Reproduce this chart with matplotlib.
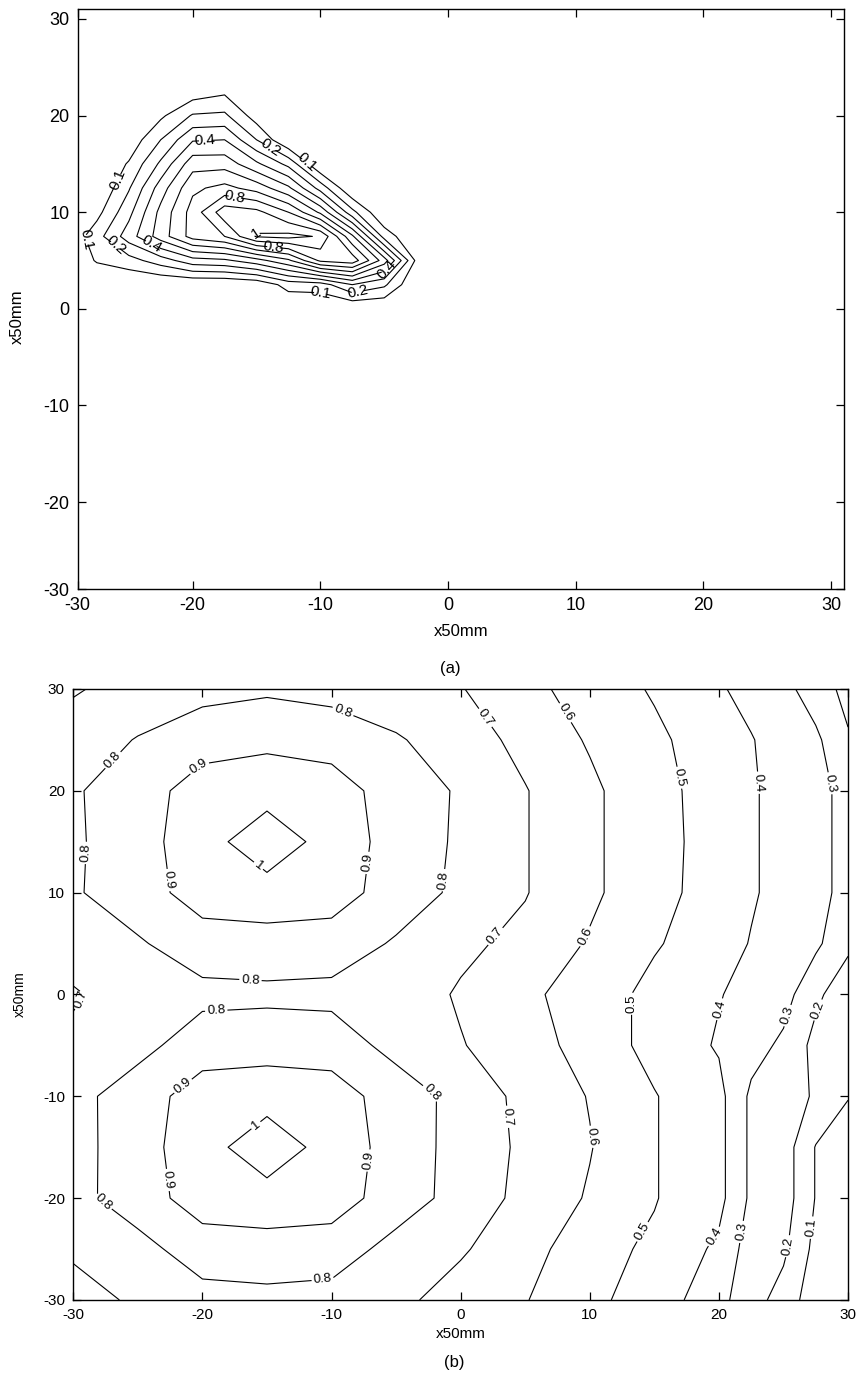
import numpy as np
import matplotlib
matplotlib.use("Agg")
import matplotlib.pyplot as plt

plt.rcParams["font.family"] = ["Liberation Sans Narrow", "Liberation Sans", "DejaVu Sans"]

LEVELS = [0.1, 0.2, 0.3, 0.4, 0.5, 0.6, 0.7, 0.8, 0.9, 1.0]

# ---- panel (a): fan shaped field, zero outside the window below
XA = [-30, -27.5, -25, -22.5, -20, -17.5, -15, -12.5, -10, -7.5, -5, -2.5, 0]
YA = [25, 22.5, 20, 17.5, 15, 12.5, 10, 7.5, 5, 2.5, 0]
ZA = [
    [0, 0, 0, 0, 0, 0, 0, 0, 0, 0, 0, 0, 0],
    [0, 0, 0, 0, 0.04, 0.08, 0, 0, 0, 0, 0, 0, 0],
    [0, 0, 0, 0.08, 0.21, 0.22, 0.05, 0, 0, 0, 0, 0, 0],
    [0, 0, 0.03, 0.20, 0.39, 0.40, 0.20, 0, 0, 0, 0, 0, 0],
    [0, 0, 0.11, 0.32, 0.56, 0.56, 0.42, 0.27, 0, 0, 0, 0, 0],
    [0, 0, 0.19, 0.45, 0.68, 0.73, 0.66, 0.52, 0.26, 0, 0, 0, 0],
    [0, 0.066, 0.27, 0.53, 0.74, 0.96, 0.93, 0.80, 0.58, 0.23, 0, 0, 0],
    [0, 0.16, 0.35, 0.55, 0.74, 0.80, 1.01, 1.03, 0.99, 0.62, 0.16, 0, 0],
    [0, 0.11, 0.16, 0.25, 0.36, 0.38, 0.46, 0.58, 0.82, 0.86, 0.55, 0.08, 0],
    [0, 0, 0, 0, 0, 0, 0.02, 0.14, 0.15, 0.30, 0.22, 0, 0],
    [0, 0, 0, 0, 0, 0, 0, 0, 0, 0, 0, 0, 0],
]

# ---- panel (b): two peaks on the left, falling off to the right
XB = [-30, -25, -20, -15, -10, -5, 0, 5, 10, 15, 20, 22.5, 25, 27.5, 30]
YB = [30, 25, 20, 15, 10, 5, 0, -5, -10, -15, -20, -25, -30]
ZB = [
    [0.69, 0.74, 0.77, 0.785, 0.77, 0.74, 0.705, 0.63, 0.555, 0.49, 0.41, 0.37, 0.33, 0.25, 0.17],
    [0.75, 0.805, 0.855, 0.875, 0.855, 0.81, 0.75, 0.67, 0.59, 0.52, 0.445, 0.405, 0.36, 0.32, 0.21],
    [0.79, 0.85, 0.95, 0.967, 0.95, 0.85, 0.79, 0.705, 0.62, 0.53, 0.46, 0.41, 0.37, 0.33, 0.27],
    [0.786, 0.855, 0.967, 1.05, 0.967, 0.855, 0.786, 0.705, 0.62, 0.53, 0.465, 0.41, 0.37, 0.33, 0.27],
    [0.79, 0.85, 0.95, 0.967, 0.95, 0.85, 0.78, 0.705, 0.62, 0.53, 0.46, 0.41, 0.37, 0.33, 0.27],
    [0.75, 0.79, 0.85, 0.855, 0.85, 0.79, 0.72, 0.675, 0.59, 0.51, 0.44, 0.395, 0.36, 0.32, 0.22],
    [0.69, 0.75, 0.775, 0.78, 0.775, 0.75, 0.69, 0.62, 0.555, 0.47, 0.405, 0.37, 0.34, 0.22, 0.14],
    [0.72, 0.77, 0.85, 0.855, 0.85, 0.77, 0.705, 0.65, 0.555, 0.47, 0.39, 0.34, 0.28, 0.17, 0.13],
    [0.77, 0.85, 0.95, 0.967, 0.95, 0.85, 0.77, 0.67, 0.595, 0.505, 0.43, 0.28, 0.24, 0.19, 0.105],
    [0.766, 0.855, 0.967, 1.05, 0.967, 0.855, 0.766, 0.68, 0.605, 0.505, 0.43, 0.28, 0.25, 0.095, 0.04],
    [0.77, 0.85, 0.95, 0.967, 0.95, 0.85, 0.765, 0.67, 0.59, 0.505, 0.43, 0.28, 0.25, 0.095, 0.04],
    [0.72, 0.767, 0.85, 0.855, 0.85, 0.767, 0.71, 0.645, 0.53, 0.485, 0.38, 0.25, 0.22, 0.07, 0.03],
    [0.65, 0.72, 0.765, 0.775, 0.765, 0.72, 0.665, 0.605, 0.52, 0.46, 0.33, 0.24, 0.16, 0.04, 0.03],
]

TICKS = [-30, -20, -10, 0, 10, 20, 30]
TICK_LABELS = ["-30", "-20", "-10", "0", "10", "20", "30"]

# inline labels: (level, rough x, rough y)
LABELS_A = [(0.1, -25.3, 13.2), (0.4, -19, 17.1), (0.2, -14.3, 16.2), (0.1, -11.5, 14.7),
            (0.8, -16.5, 12.5), (1.0, -15, 8.0), (0.8, -13.8, 5.4), (0.1, -27.9, 7.3),
            (0.2, -27.2, 5.4), (0.4, -24, 5.6), (0.1, -9.8, 2.3), (0.2, -7.2, 2.3),
            (0.4, -5.1, 4.3)]
LABELS_B = [(0.8, -8.5, 29), (0.8, -26.9, 23), (0.9, -19.9, 22), (0.8, -29, 13.9),
            (1.0, -16.4, 11.9), (0.9, -23, 11.2), (0.9, -7, 12.9), (0.8, -16.3, 1.1),
            (0.7, -29, -0.7), (0.8, -18.9, -2), (0.9, -20.8, -9.7), (1.0, -16.7, -12),
            (0.9, -7.2, -16.3), (0.9, -22.5, -18.2), (0.8, -27.8, -20.5), (0.8, -10.7, -27.8),
            (0.8, -2.7, -10.1), (0.7, 1.6, 27), (0.6, 8.4, 27.8), (0.5, 17, 21.3),
            (0.4, 23.1, 20.8), (0.3, 29, 20.8), (0.8, -1, 11.2), (0.7, 3, 5.5),
            (0.6, 10.2, 5.5), (0.5, 13.5, -0.9), (0.4, 20.3, -1.5), (0.3, 26.2, -2.3),
            (0.2, 27.6, -1.5), (0.7, 3.8, -12), (0.6, 9.9, -14), (0.5, 14.3, -23.4),
            (0.4, 19.7, -23.8), (0.3, 20.8, -23.2), (0.2, 26.1, -24.8), (0.1, 27.2, -22.9)]


def snap_labels(cs, wanted):
    # move each wanted spot onto the nearest point of its own level's line
    pts = []
    paths = cs.get_paths()
    for lev, x, y in wanted:
        path = paths[LEVELS.index(lev)]
        best, best_d = None, np.inf
        for poly in path.to_polygons(closed_only=False):
            if len(poly) < 2:
                continue
            a, b = poly[:-1], poly[1:]
            ab = b - a
            den = np.maximum((ab ** 2).sum(1), 1e-12)
            t = np.clip(((x - a[:, 0]) * ab[:, 0] + (y - a[:, 1]) * ab[:, 1]) / den, 0, 1)
            proj = a + ab * t[:, None]
            d = np.hypot(proj[:, 0] - x, proj[:, 1] - y)
            i = d.argmin()
            if d[i] < best_d:
                best_d, best = d[i], proj[i]
        if best is not None:
            pts.append((float(best[0]), float(best[1])))
    return pts


def style_axes(ax, lim, tick_pos, tick_fs):
    ax.set_xlim(*lim)
    ax.set_ylim(*lim)
    ax.set_xticks(tick_pos)
    ax.set_xticklabels(TICK_LABELS)
    ax.set_yticks(tick_pos)
    ax.set_yticklabels(TICK_LABELS)
    ax.tick_params(direction="in", top=True, right=True, length=6, width=0.9,
                   labelsize=tick_fs, pad=6)
    for sp in ax.spines.values():
        sp.set_linewidth(1.0)


def draw_contours(ax, x, y, z, wanted, fs):
    cs = ax.contour(x, y, np.array(z), levels=LEVELS, colors="k", linewidths=0.8)
    ax.clabel(cs, fmt="%g", fontsize=fs, inline=True, inline_spacing=2,
              manual=snap_labels(cs, wanted))


fig = plt.figure(figsize=(8.58, 13.73), dpi=100)

# (a)
ax1 = fig.add_axes([0.0906, 0.571, 0.893, 0.4222])
draw_contours(ax1, XA, YA, ZA, LABELS_A, 11)
# the left corner tick of (a) sits at -29 but is labelled -30
style_axes(ax1, (-29, 31), [-29, -20, -10, 0, 10, 20, 30], 13)
ax1.set_xlabel("x50mm", fontsize=12)
ax1.xaxis.set_label_coords(0.5, -0.06)
ax1.set_ylabel("x50mm", fontsize=12)
ax1.yaxis.set_label_coords(-0.069, 0.47)

# (b)
ax2 = fig.add_axes([0.0854, 0.0532, 0.903, 0.445])
draw_contours(ax2, XB, YB, ZB, LABELS_B, 9.5)
style_axes(ax2, (-30, 30), TICKS, 11)
ax2.set_xlabel("x50mm", fontsize=11)
ax2.xaxis.set_label_coords(0.5, -0.045)
ax2.set_ylabel("x50mm", fontsize=10)
ax2.yaxis.set_label_coords(-0.06, 0.5)

fig.text(0.525, 1 - 668 / 1373, "(a)", ha="center", va="center", fontsize=12,
         family=["Liberation Sans", "DejaVu Sans"])
fig.text(0.530, 1 - 1362 / 1373, "(b)", ha="center", va="center", fontsize=12,
         family=["Liberation Sans", "DejaVu Sans"])

fig.savefig("out.png", dpi=100)
